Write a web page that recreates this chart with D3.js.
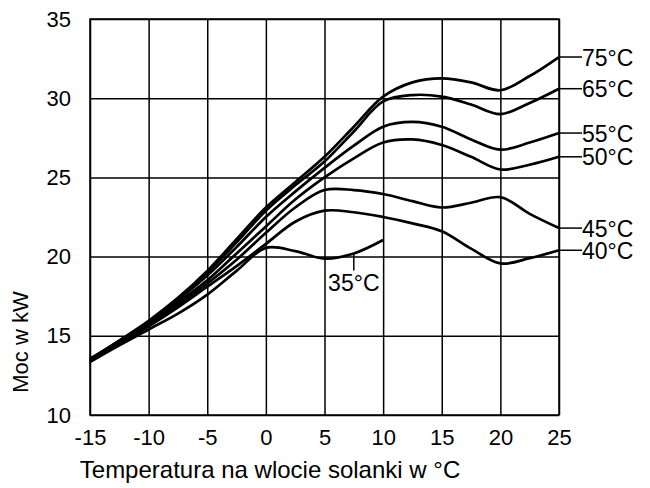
<!DOCTYPE html>
<html>
<head>
<meta charset="utf-8">
<script src="https://cdn.jsdelivr.net/npm/d3@7"></script>
<style>
  html, body { margin: 0; padding: 0; background: #fff; }
  svg { display: block; font-family: "Liberation Sans", Arial, sans-serif; }
</style>
</head>
<body>
<svg id="chart" width="650" height="488"></svg>
<script>
// Brine inlet temperature (°C)
const inletTemps = [-15, -12.5, -10, -7.5, -5, -2.5, 0, 2.5, 5, 7.5, 10, 12.5, 15, 17.5, 20, 22.5, 25];

// Heating capacity (kW) per flow temperature
const s75 = [13.55, 14.7, 15.95, 17.4, 19.1, 21.1, 23.1, 24.7, 26.3, 28.2, 30.1, 31.0, 31.25, 31.0, 30.5, 31.4, 32.6];
const s65 = [13.5, 14.7, 15.9, 17.35, 19.0, 20.9, 22.9, 24.5, 26.0, 27.9, 29.8, 30.2, 30.1, 29.6, 29.0, 29.7, 30.6];
const s55 = [13.45, 14.6, 15.85, 17.25, 18.8, 20.6, 22.5, 24.1, 25.6, 27.0, 28.2, 28.5, 28.2, 27.4, 26.75, 27.2, 27.8];
const s50 = [13.4, 14.6, 15.8, 17.1, 18.5, 20.2, 21.9, 23.6, 25.0, 26.2, 27.2, 27.4, 27.05, 26.3, 25.5, 25.8, 26.3];
const s45 = [13.4, 14.55, 15.7, 16.95, 18.3, 19.8, 21.5, 23.1, 24.2, 24.2, 23.95, 23.5, 23.1, 23.4, 23.75, 22.7, 21.8];
const s40 = [13.35, 14.5, 15.6, 16.8, 18.1, 19.4, 20.8, 22.2, 22.9, 22.8, 22.5, 22.1, 21.6, 20.5, 19.57, 19.9, 20.4];
const s35 = [13.35, 14.4, 15.4, 16.4, 17.6, 19.1, 20.55, 20.35, 19.87, 20.2, 21.05];

const seriesNames = ["75°C", "65°C", "55°C", "50°C", "45°C", "40°C", "35°C"];
const seriesValues = [s75, s65, s55, s50, s45, s40, s35];

const xTicks = [-15, -10, -5, 0, 5, 10, 15, 20, 25];
const yTicks = [10, 15, 20, 25, 30, 35];
const xTitle = "Temperatura na wlocie solanki w °C";
const yTitle = "Moc w kW";
const label35At = 7.5;

const FONT = '"Liberation Sans", Arial, sans-serif';
const svg = d3.select("#chart");
const L = 90, R = 559, T = 19, B = 415;
const x = d3.scaleLinear().domain([-15, 25]).range([L, R]);
const y = d3.scaleLinear().domain([10, 35]).range([B, T]);

// grid via axes
const gx = svg.append("g").attr("transform", `translate(0,${B})`)
  .call(d3.axisBottom(x).tickValues(xTicks).tickSize(-(B - T)).tickPadding(17).tickFormat(d => String(d)));
const gy = svg.append("g").attr("transform", `translate(${L},0)`)
  .call(d3.axisLeft(y).tickValues(yTicks).tickSize(-(R - L)).tickPadding(19).tickFormat(d => String(d)));
[gx, gy].forEach(g => {
  g.select(".domain").remove();
  g.selectAll(".tick line").attr("stroke", "#000").attr("stroke-width", 1.5);
  g.selectAll(".tick text").attr("fill", "#000").style("font-size", "22px").style("font-family", FONT);
});
gx.selectAll(".tick text").attr("dy", "0.6em");
// frame
svg.append("rect").attr("x", L).attr("y", T).attr("width", R - L).attr("height", B - T)
  .attr("fill", "none").attr("stroke", "#000").attr("stroke-width", 1.5);

// curves
const line = d3.line()
  .x((d, i) => x(inletTemps[i]))
  .y(d => y(d))
  .curve(d3.curveCatmullRom.alpha(0.5));

seriesValues.forEach(vals => {
  svg.append("path").datum(vals).attr("d", line)
    .attr("fill", "none").attr("stroke", "#000").attr("stroke-width", 2.7)
    .attr("stroke-linejoin", "round");
});

// right-side labels
seriesValues.slice(0, 6).forEach((vals, k) => {
  const yy = y(vals[vals.length - 1]);
  svg.append("line").attr("x1", R).attr("x2", 582).attr("y1", yy).attr("y2", yy)
    .attr("stroke", "#000").attr("stroke-width", 1.5);
  svg.append("text").attr("x", 582).attr("y", yy + 8.5)
    .style("font-size", "23px").style("font-family", FONT).attr("fill", "#000").text(seriesNames[k]);
});

// 35°C label below curve
(function () {
  const idx = inletTemps.indexOf(label35At);
  const px = x(label35At), py = y(s35[idx]);
  const t = svg.append("text").attr("x", px).attr("y", py + 38).attr("text-anchor", "middle")
    .style("font-size", "23px").style("font-family", FONT).attr("fill", "#000").text(seriesNames[6]);
  const bb = t.node().getBBox();
  svg.insert("rect", () => t.node()).attr("x", bb.x - 1).attr("y", bb.y + 2).attr("width", bb.width + 2)
    .attr("height", bb.height - 2).attr("fill", "#fff");
  svg.append("line").attr("x1", px).attr("x2", px).attr("y1", py).attr("y2", py + 17)
    .attr("stroke", "#000").attr("stroke-width", 1.5);
})();

// axis titles
svg.append("text").attr("x", 270).attr("y", 478).attr("text-anchor", "middle")
  .style("font-size", "24px").style("font-family", FONT).attr("fill", "#000").text(xTitle);
svg.append("text").attr("transform", "translate(28,342) rotate(-90)").attr("text-anchor", "middle")
  .style("font-size", "22px").style("font-family", FONT).attr("fill", "#000").text(yTitle);
</script>
</body>
</html>
